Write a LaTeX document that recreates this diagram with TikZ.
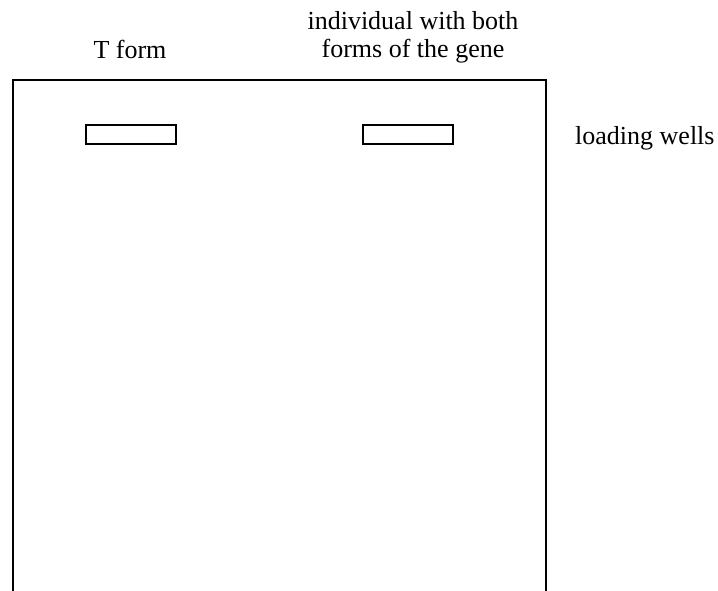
\documentclass[tikz,border=0pt]{standalone}
\usepackage{fontspec}
\setmainfont{Liberation Serif}
\begin{document}
\begin{tikzpicture}[x=1pt,y=-1pt,
  lbl/.style={font=\fontsize{26}{29}\selectfont, inner sep=0pt},
  well/.style={draw, line width=2pt, minimum width=90pt, minimum height=19pt, inner sep=0pt},
  gel/.style={line width=2pt}]
\useasboundingbox (0,0) rectangle (718,591);
% gel outline, open at the bottom
\coordinate (gbl) at (12.5,591);
\coordinate (gtl) at (12.5,80.5);
\coordinate (gtr) at (545.5,80.5);
\coordinate (gbr) at (545.5,591);
\draw[gel] (gbl) -- (gtl) -- (gtr) -- (gbr);
% loading wells
\node[well] (w1) at (131,135) {};
\node[well] (w2) at (408,135) {};
% lane labels
\node[lbl, anchor=base] (tform) at (130,59) {T form};
\node[lbl, anchor=base] (both1) at (413,30) {individual with both};
\node[lbl, anchor=base] (both2) at (413,58) {forms of the gene};
\node[lbl, anchor=base west] (wells) at (575,145) {loading wells};
\end{tikzpicture}
\end{document}
